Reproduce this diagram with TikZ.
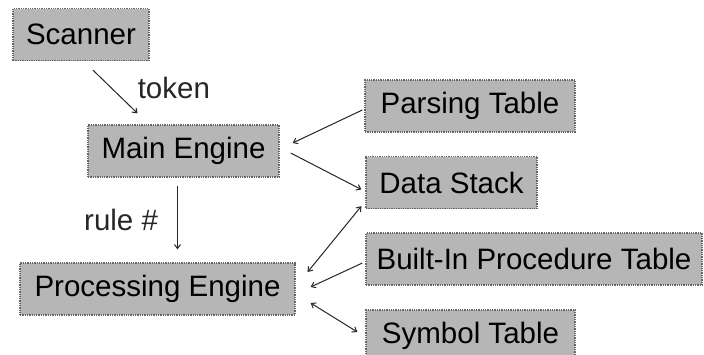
\documentclass[tikz,border=0pt]{standalone}
\usepackage{fontspec}
\setmainfont{Liberation Sans}
\usetikzlibrary{arrows.meta}
\definecolor{boxgray}{RGB}{182, 182, 182}

\begin{document}
\begin{tikzpicture}[x=1pt, y=-1pt,
        unit/.style={rectangle, draw=black!60, densely dotted, line width=1.3pt, fill=boxgray, minimum height=52pt, inner sep=0pt, font=\fontsize{29.5}{34}\selectfont},
        flow/.style={-{Straight Barb[length=4pt, width=6pt]}, line width=1pt, black!85},
        twoway/.style={{Straight Barb[length=4pt, width=6pt]}-{Straight Barb[length=4pt, width=6pt]}},
        lbl/.style={inner sep=0pt, font=\fontsize{29.5}{34}\selectfont}]
        \useasboundingbox (0,0) rectangle (704,354);

        % Front end
        \node[unit, minimum width=136pt] (scanner) at (81,34.5) {Scanner};
        \node[unit, minimum width=191pt] (main) at (183.5,151) {Main Engine};
        \node[unit, minimum width=275pt] (proc) at (157.5,289) {Processing Engine};

        % Tables and stack
        \node[unit, minimum width=210pt] (parse) at (470,106) {Parsing Table};
        \node[unit, minimum width=171pt] (stack) at (451.5,182.5) {Data Stack};
        \node[unit, minimum width=336pt] (builtin) at (534,259) {Built-In Procedure Table};
        \node[unit, minimum width=209pt] (symbol) at (470.5,336) {Symbol Table};

        % Arrows
        \draw[flow] ([xshift=12pt, yshift=-9pt]scanner.south) -- ([xshift=-46pt, yshift=11pt]main.north)
            node[lbl, midway, right=22pt, yshift=4pt] (token) {token};
        \draw[flow] ([xshift=-6pt, yshift=-8pt]main.south) -- ([xshift=20pt, yshift=13pt]proc.north)
            node[lbl, midway, left=19pt, yshift=-2pt] (rule) {rule \#};
        \draw[flow] ([xshift=-2pt, yshift=-4pt]parse.west) -- ([xshift=13pt, yshift=8pt]main.east);
        \draw[flow] ([xshift=11pt, yshift=-2pt]main.east) -- ([xshift=-4pt, yshift=-7pt]stack.west);
        \draw[flow, twoway] ([xshift=12pt, yshift=17pt]proc.east) -- ([xshift=-4pt, yshift=3pt]stack.south west);
        \draw[flow] ([xshift=-3pt, yshift=-4pt]builtin.west) -- ([xshift=15pt, yshift=2pt]proc.east);
        \draw[flow, twoway] ([xshift=15pt, yshift=-14pt]proc.east) -- ([xshift=-8pt, yshift=4pt]symbol.west);
    \end{tikzpicture}
\end{document}
